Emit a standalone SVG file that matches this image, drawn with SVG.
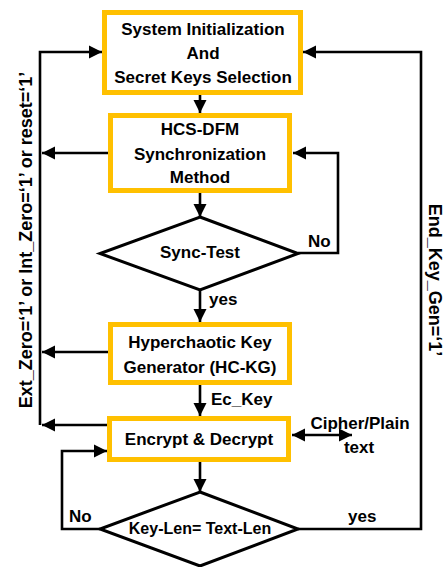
<svg xmlns="http://www.w3.org/2000/svg" width="446" height="567" viewBox="0 0 446 567">
<style>
.box{fill:#fff;stroke:#FFC000;stroke-width:5}
.dia{fill:#fff;stroke:#000;stroke-width:3;stroke-linejoin:miter}
.t{font-family:"Liberation Sans",Arial,sans-serif;font-weight:bold;font-size:17px;fill:#000}
.c{text-anchor:middle}
.ln{fill:none;stroke:#000;stroke-width:2.6}
</style>
<defs>
<marker id="ah" markerUnits="userSpaceOnUse" markerWidth="14" markerHeight="14" viewBox="0 0 14 14" refX="13" refY="7" orient="auto-start-reverse">
<path d="M0,0.5 L13,7 L0,13.5 Z" fill="#000"/>
</marker>
</defs>
<rect width="446" height="567" fill="#fff"/>
<g id="connectors">
<line class="ln" x1="200" y1="95" x2="200" y2="113" marker-end="url(#ah)"/>
<line class="ln" x1="200" y1="193" x2="200" y2="217" marker-end="url(#ah)"/>
<line class="ln" x1="200" y1="290" x2="200" y2="322" marker-end="url(#ah)"/>
<line class="ln" x1="200" y1="385" x2="200" y2="416" marker-end="url(#ah)"/>
<line class="ln" x1="200" y1="462" x2="200" y2="492" marker-end="url(#ah)"/>
<path class="ln" d="M298,253 H338 V153 H293" marker-end="url(#ah)"/>
<path class="ln" d="M40,425 V52 H102" marker-end="url(#ah)"/>
<line class="ln" x1="108" y1="153" x2="42" y2="153" marker-end="url(#ah)"/>
<line class="ln" x1="108" y1="352" x2="42" y2="352" marker-end="url(#ah)"/>
<line class="ln" x1="107" y1="425" x2="42" y2="425" marker-end="url(#ah)"/>
<path class="ln" d="M100,529 H62 V451 H107" marker-end="url(#ah)"/>
<path class="ln" d="M298,529 H421 V52 H303" marker-end="url(#ah)"/>
<line class="ln" x1="292" y1="435" x2="352" y2="435" marker-start="url(#ah)" marker-end="url(#ah)"/>
<text class="t" x="308" y="247">No</text>
<text class="t" x="209" y="305">yes</text>
<text class="t" x="211" y="405">Ec_Key</text>
<text class="t" x="69" y="522">No</text>
<text class="t" x="348" y="522">yes</text>
<text class="t c" x="360" y="429">Cipher/Plain</text>
<text class="t c" x="359" y="453">text</text>
<text class="t c" style="font-size:18px" transform="translate(32,240) rotate(-90)">Ext_Zero=‘1’ or Int_Zero=‘1’ or reset=‘1’</text>
<text class="t c" style="font-size:18px" transform="translate(429,280) rotate(90)">End_Key_Gen=‘1’</text>
</g>
<g id="init">
<rect class="box" x="104.5" y="12.5" width="196" height="80"/>
<text class="t c" x="203" y="35">System Initialization</text>
<text class="t c" x="203" y="59">And</text>
<text class="t c" x="203" y="83">Secret Keys Selection</text>
</g>
<g id="sync">
<rect class="box" x="110.5" y="115.5" width="179" height="75"/>
<text class="t c" x="200" y="135">HCS-DFM</text>
<text class="t c" x="200" y="160">Synchronization</text>
<text class="t c" x="200" y="183">Method</text>
</g>
<g id="synctest">
<polygon class="dia" points="200,217 298,253.5 200,290 100,253.5"/>
<text class="t c" x="200" y="258">Sync-Test</text>
</g>
<g id="hckg">
<rect class="box" x="110.5" y="324.5" width="179" height="58"/>
<text class="t c" x="200" y="348">Hyperchaotic Key</text>
<text class="t c" x="200" y="373">Generator (HC-KG)</text>
</g>
<g id="encdec">
<rect class="box" x="109.5" y="418.5" width="179" height="41"/>
<text class="t c" x="199" y="445">Encrypt &amp; Decrypt</text>
</g>
<g id="keylen">
<polygon class="dia" points="200,492 298,529 200,566 100,529"/>
<text class="t c" style="font-size:16px" x="200" y="534">Key-Len= Text-Len</text>
</g>
</svg>
